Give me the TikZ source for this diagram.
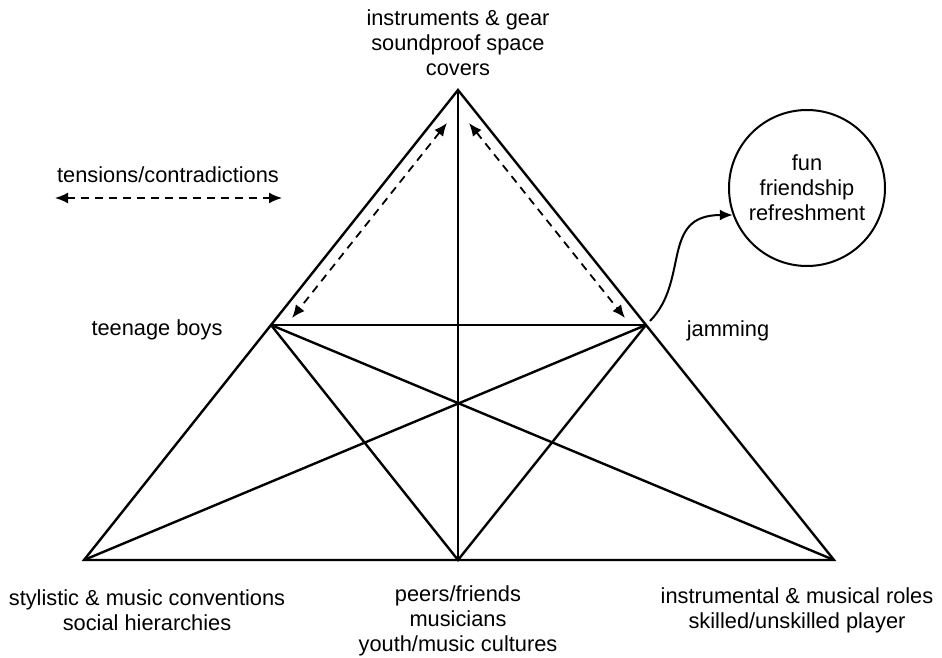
\documentclass[tikz,border=0pt]{standalone}
\usepackage{fontspec}
\setmainfont{Liberation Sans}
\usetikzlibrary{arrows.meta}
\begin{document}
\begin{tikzpicture}[x=0.5pt,y=-0.5pt,
  txt/.style={align=center, inner sep=0pt, font=\fontsize{10.9}{12.5}\selectfont},
  edge/.style={line width=1.2pt, line join=miter},
  tense/.style={line width=0.9pt, dash pattern=on 4pt off 3pt,
    {Latex[length=6.5pt,width=5.5pt]}-{Latex[length=6.5pt,width=5.5pt]}}]
\useasboundingbox (0,0) rectangle (942,658);
% corners and midpoints
\coordinate (apex) at (458,90);
\coordinate (bl) at (84,560);
\coordinate (br) at (834,560);
\coordinate (bm) at (458,560);
\coordinate (ml) at (271,325);
\coordinate (mr) at (646,325);
\draw[edge] (apex) -- (bl) -- (br) -- cycle;
\draw[edge] (apex) -- (bm);
\draw[edge] (ml) -- (mr);
\draw[edge] (ml) -- (bm) -- (mr);
\draw[edge] (ml) -- (br);
\draw[edge] (mr) -- (bl);
% tensions
\coordinate (tl1) at (447,123);
\coordinate (tl2) at (292,318);
\coordinate (tr1) at (469,123);
\coordinate (tr2) at (625,318);
\draw[tense] (tl1) -- (tl2);
\draw[tense] (tr1) -- (tr2);
\coordinate (key1) at (55,198);
\coordinate (key2) at (282,198);
\draw[tense] (key1) -- (key2);
\node[txt] (keytext) at (168,175) {tensions/contradictions};
% labels
\node[txt] (gear) at (458,43) {instruments \& gear\\soundproof space\\covers};
\node[txt] (boys) at (157,330) {teenage boys};
\node[txt] (jam) at (728,331) {jamming};
\node[txt] (conv) at (147,610) {stylistic \& music conventions\\social hierarchies};
\node[txt] (peers) at (458,621) {peers/friends\\musicians\\youth/music cultures};
\node[txt] (roles) at (797,610) {instrumental \& musical roles\\skilled/unskilled player};
% outcome
\node[txt, circle, draw, line width=1pt, minimum size=78pt] (fun) at (807,188)
  {fun\\friendship\\refreshment};
\coordinate (jamout) at (650,321);
\draw[line width=1pt, -{Latex[length=6.5pt,width=5.5pt]}] (jamout)
  .. controls (690,280) and (660,215) .. (fun.200);
\end{tikzpicture}
\end{document}
